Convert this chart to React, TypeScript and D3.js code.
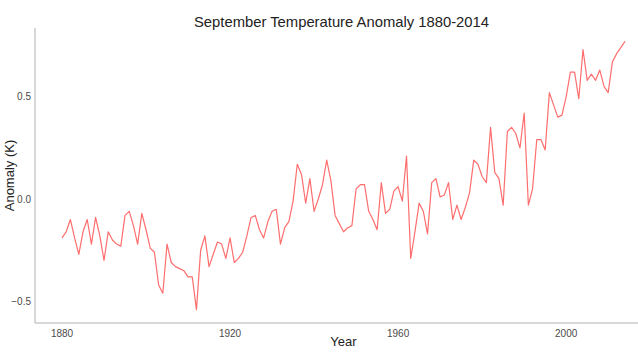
import React from "react";
import * as d3 from "d3";

const years: number[] = d3.range(1880, 2015);
const anomalies: number[] = [
  -0.19, -0.16, -0.10, -0.19, -0.27, -0.16, -0.10, -0.22, -0.09, -0.18,
  -0.30, -0.16, -0.20, -0.22, -0.23, -0.08, -0.06, -0.13, -0.22, -0.07,
  -0.15, -0.24, -0.26, -0.42, -0.46, -0.22, -0.31, -0.33, -0.34, -0.35,
  -0.38, -0.38, -0.54, -0.25, -0.18, -0.33, -0.27, -0.21, -0.22, -0.29,
  -0.19, -0.31, -0.29, -0.26, -0.18, -0.09, -0.08, -0.15, -0.19, -0.11,
  -0.06, -0.05, -0.22, -0.14, -0.11, -0.01, 0.17, 0.12, -0.02, 0.10,
  -0.06, 0.00, 0.07, 0.19, 0.09, -0.08, -0.12, -0.16, -0.14, -0.13,
  0.05, 0.07, 0.07, -0.06, -0.10, -0.15, 0.08, -0.07, -0.05, 0.04,
  0.06, -0.01, 0.21, -0.29, -0.16, -0.02, -0.06, -0.17, 0.08, 0.10,
  0.01, 0.02, 0.08, -0.10, -0.03, -0.10, -0.04, 0.03, 0.19, 0.17,
  0.11, 0.08, 0.35, 0.13, 0.10, -0.03, 0.33, 0.35, 0.32, 0.25,
  0.42, -0.03, 0.05, 0.29, 0.29, 0.24, 0.52, 0.46, 0.40, 0.41,
  0.50, 0.62, 0.62, 0.49, 0.73, 0.58, 0.61, 0.58, 0.63, 0.55,
  0.52, 0.67, 0.71, 0.74, 0.77,
];
const xTicks: number[] = [1880, 1920, 1960, 2000];
const yTicks: number[] = [-0.5, 0, 0.5];

const W = 638;
const H = 353;

export default function App() {
  const left = 35, right = 652, top = 28, bottom = 323;
  const x = d3.scaleLinear().domain([1880, 2014]).range([62, 625]);
  const yMin = d3.min(anomalies)!, yMax = d3.max(anomalies)!;
  const pad = (yMax - yMin) * 0.05;
  const y = d3.scaleLinear().domain([yMin - pad, yMax + pad]).range([bottom, top]);
  const line = d3
    .line<number>()
    .x((_, i) => x(years[i]))
    .y((d) => y(d));
  const font = "Liberation Sans, Arial, sans-serif";
  const cx = (left + right) / 2;
  return (
    <svg
      width={W}
      height={H}
      style={{ position: "absolute", left: 0, top: 0, background: "#fff" }}
      fontFamily={font}
    >
      <text x={cx - 2} y={27} textAnchor="middle" fontSize={14.8} fill="#222">
        September Temperature Anomaly 1880-2014
      </text>
      <line x1={left} x2={left} y1={top} y2={bottom} stroke="#b0b0b0" strokeWidth={1} />
      <line x1={left} x2={right} y1={bottom} y2={bottom} stroke="#b0b0b0" strokeWidth={1} />
      {yTicks.map((t) => (
        <text key={t} x={left - 4} y={y(t)} dy="0.35em" textAnchor="end" fontSize={10} fill="#4a4a4a">
          {d3.format(".1f")(t)}
        </text>
      ))}
      {xTicks.map((t) => (
        <text key={t} x={x(t)} y={bottom + 14} textAnchor="middle" fontSize={10} fill="#4a4a4a">
          {t}
        </text>
      ))}
      <text x={cx} y={346} textAnchor="middle" fontSize={13} fill="#222">
        Year
      </text>
      <text
        transform={`translate(14, ${(top + bottom) / 2}) rotate(-90)`}
        textAnchor="middle"
        fontSize={13}
        fill="#222"
      >
        Anomaly (K)
      </text>
      <path d={line(anomalies) ?? ""} fill="none" stroke="#ff6e6e" strokeWidth={1.2} strokeLinejoin="round" />
    </svg>
  );
}
